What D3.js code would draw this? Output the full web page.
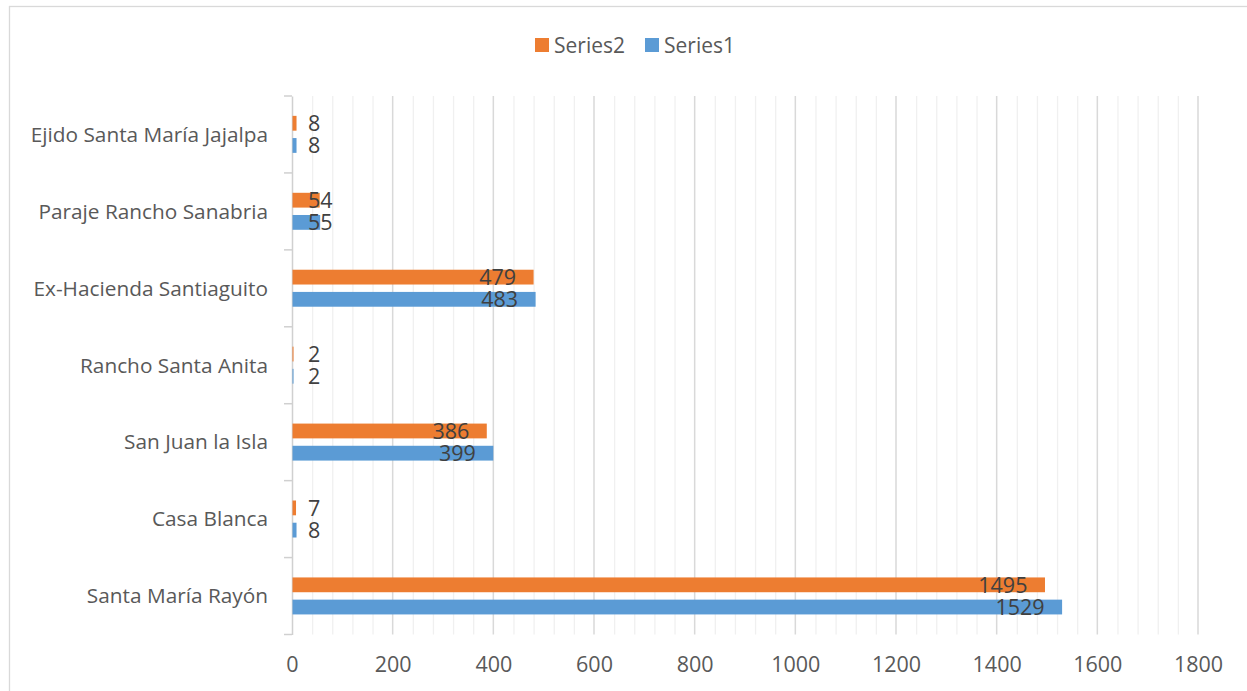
<!DOCTYPE html>
<html><head><meta charset="utf-8">
<script src="https://cdn.jsdelivr.net/npm/d3@7"></script>
<style>body{margin:0;background:#fff}svg{display:block}</style>
</head><body>
<svg id="c" width="1247" height="691"></svg>
<script>
const categories = ["Santa María Rayón","Casa Blanca","San Juan la Isla","Rancho Santa Anita","Ex-Hacienda Santiaguito","Paraje Rancho Sanabria","Ejido Santa María Jajalpa"];
const series1 = [1529, 8, 399, 2, 483, 55, 8];
const series2 = [1495, 7, 386, 2, 479, 54, 8];
const seriesNames = ["Series2","Series1"];
const seriesColors = ["#ED7D31","#5B9BD5"];
const xTicks = [0,200,400,600,800,1000,1200,1400,1600,1800];

const FONT = "'Open Sans', sans-serif";
const svg = d3.select("#c");
svg.append("rect").attr("x",9.5).attr("y",6.5).attr("width",1300).attr("height",700)
  .attr("fill","#fff").attr("stroke","#d9d9d9").attr("stroke-width",1.3);

const x = d3.scaleLinear().domain([0,1800]).range([292,1198]);
const y = d3.scaleBand().domain(categories).range([634.5,96]).padding(0);
const sub = d3.scaleBand().domain(seriesNames).range([y.bandwidth()/2-18.6, y.bandwidth()/2+18.4]).paddingInner(1/3);

// minor gridlines
const minor = d3.range(40,1800,40).filter(v=>v%200!==0);
svg.append("g").selectAll("line").data(minor).join("line")
  .attr("x1",d=>x(d)+0.5).attr("x2",d=>x(d)+0.5).attr("y1",96).attr("y2",634.5)
  .attr("stroke","#f0f0f0").attr("stroke-width",1.3);
// major gridlines
svg.append("g").selectAll("line").data(xTicks.slice(1)).join("line")
  .attr("x1",d=>x(d)).attr("x2",d=>x(d)).attr("y1",96).attr("y2",634.5)
  .attr("stroke","#d9d9d9").attr("stroke-width",1.5);

// y axis
const yAxis = d3.axisLeft(y).tickSize(0).tickPadding(24);
const gy = svg.append("g").attr("transform","translate(292,0)").call(yAxis);
gy.select(".domain").attr("stroke","#d0d0d0").attr("stroke-width",1.5);
gy.selectAll("text").attr("font-family",FONT).attr("font-size",20.8).attr("fill","#595959").attr("dy","0.35em");
// boundary tick marks
const bounds = categories.map(c=>y(c)).concat([634.5]);
svg.append("g").selectAll("line").data(bounds).join("line")
  .attr("x1",284).attr("x2",292).attr("y1",d=>d).attr("y2",d=>d)
  .attr("stroke","#d0d0d0").attr("stroke-width",1.5);

// x axis labels
const xAxis = d3.axisBottom(x).tickValues(xTicks).tickSize(0).tickPadding(0).tickFormat(d3.format("d"));
const gx = svg.append("g").attr("transform","translate(0,672)").call(xAxis);
gx.select(".domain").remove();
gx.selectAll("text").attr("font-family",FONT).attr("font-size",21.5).attr("fill","#595959").attr("y",0).attr("dy","0");

// bars
const rows = categories.map((c,i)=>({cat:c, vals:[{s:"Series2",v:series2[i],col:seriesColors[0]},{s:"Series1",v:series1[i],col:seriesColors[1]}]}));
const g = svg.append("g");
const grp = g.selectAll("g").data(rows).join("g").attr("transform",d=>`translate(0,${y(d.cat)})`);
grp.selectAll("rect").data(d=>d.vals).join("rect")
  .attr("x",x(0)+0.5).attr("y",d=>sub(d.s)).attr("height",sub.bandwidth())
  .attr("width",d=>Math.max(1,x(d.v)-x(0))).attr("fill",d=>d.col);
grp.selectAll("text").data(d=>d.vals).join("text")
  .attr("font-family",FONT).attr("font-size",21.5).attr("fill","#404040")
  .attr("y",d=>sub(d.s)+sub.bandwidth()/2).attr("dy","0.36em")
  .text(d=>d.v)
  .each(function(d){
    const w=this.getComputedTextLength();
    const xs=Math.max(x(d.v)-17-w, x(0)+16);
    d3.select(this).attr("x",xs);
  });

// legend
const lg = svg.append("g");
const legX = [535,645];
seriesNames.forEach((s,i)=>{
  lg.append("rect").attr("x",legX[i]).attr("y",38).attr("width",14).attr("height",14).attr("fill",seriesColors[i]);
  lg.append("text").attr("x",legX[i]+19).attr("y",45).attr("dy","0.36em")
    .attr("font-family",FONT).attr("font-size",21).attr("fill","#595959").text(s);
});
</script>
</body></html>
